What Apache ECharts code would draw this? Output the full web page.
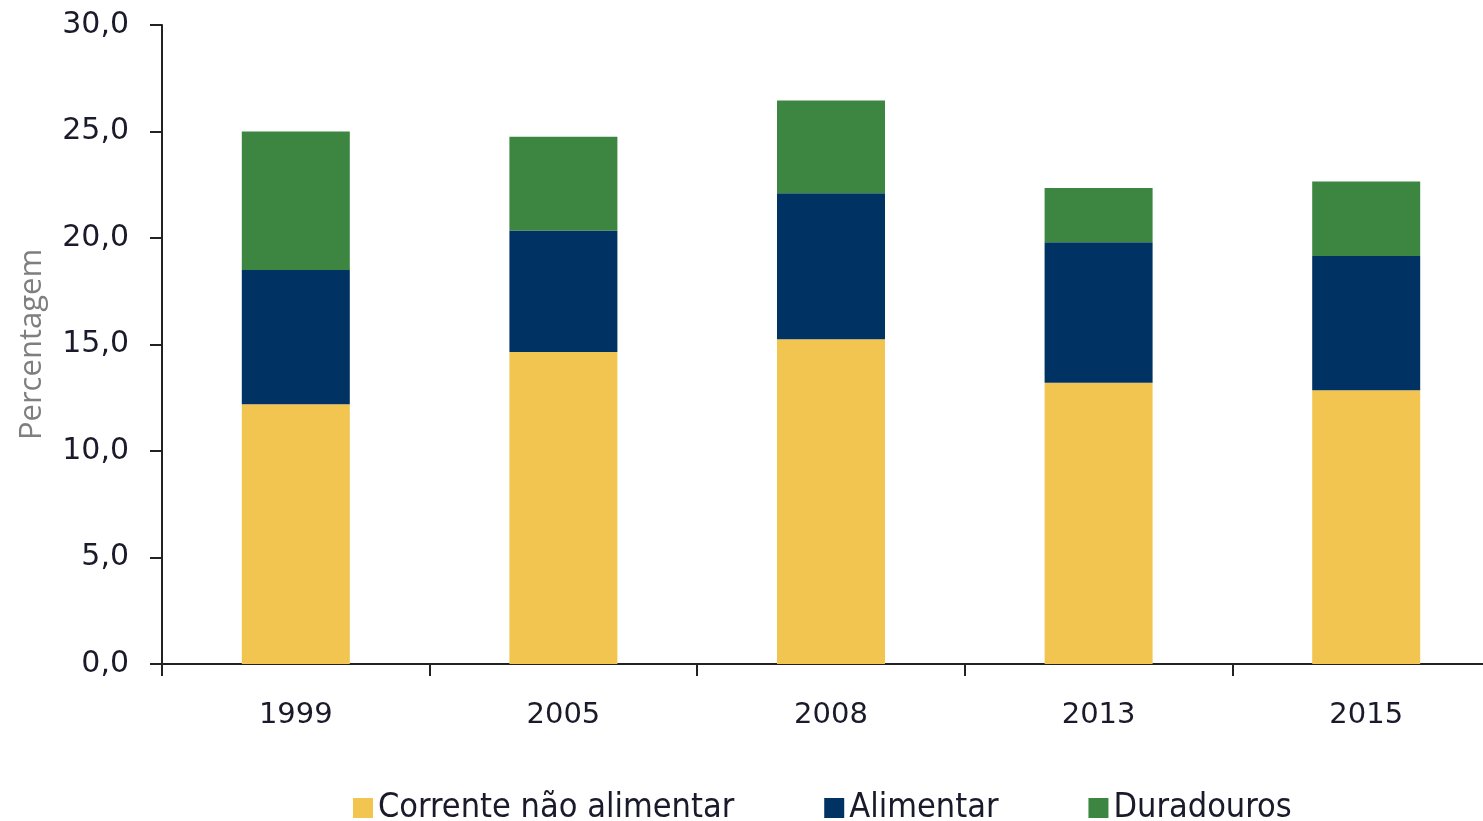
<!DOCTYPE html>
<html>
<head>
<meta charset="utf-8">
<script src="https://cdn.jsdelivr.net/npm/echarts@6/dist/echarts.min.js"></script>
<style>
  html, body { margin: 0; padding: 0; background: #fff; }
  #chart { width: 1483px; height: 821px; }
</style>
</head>
<body>
<div id="chart"></div>
<script>
// dados
var anos = ['1999', '2005', '2008', '2013', '2015'];
var corrente = [12.2, 14.65, 15.25, 13.2, 12.85];
var alimentar = [6.3, 5.7, 6.85, 6.6, 6.3];
var duradouros = [6.5, 4.4, 4.35, 2.55, 3.5];

var fonteEixo = '"DejaVu Sans", sans-serif';
var fonteLegenda = '"DejaVu Sans Condensed", "DejaVu Sans", sans-serif';
var chart = echarts.init(document.getElementById('chart'));

function serie(nome, dados, cor) {
    return {
        name: nome,
        type: 'bar',
        stack: 'total',
        barWidth: 108,
        data: dados,
        itemStyle: { color: cor }
    };
}

var option = {
    animation: false,
    grid: { left: 162, top: 25, bottom: 157, width: 1338, outerBoundsMode: 'none' },
    legend: {
        top: 786,
        left: 348,
        itemWidth: 20,
        itemHeight: 20,
        itemGap: 90,
        icon: 'rect',
        textStyle: { fontFamily: fonteLegenda, fontSize: 34, color: '#1a1a2a' },
        data: ['Corrente não alimentar', 'Alimentar', 'Duradouros']
    },
    xAxis: {
        type: 'category',
        data: anos,
        axisLine: { lineStyle: { color: '#222', width: 2 } },
        axisTick: { show: true, length: 12, lineStyle: { color: '#222', width: 2 } },
        axisLabel: { fontFamily: fonteEixo, fontSize: 29, color: '#1a1a2a', margin: 37 }
    },
    yAxis: {
        type: 'value',
        min: 0,
        max: 30,
        interval: 5,
        name: 'Percentagem',
        nameLocation: 'middle',
        nameGap: 114,
        nameTextStyle: { fontFamily: '"Open Sans", sans-serif', fontSize: 31, color: '#7f7f7f' },
        splitLine: { show: false },
        axisLine: { show: true, lineStyle: { color: '#222', width: 2 } },
        axisTick: { show: true, length: 12, lineStyle: { color: '#222', width: 2 } },
        axisLabel: {
            fontFamily: fonteEixo, fontSize: 30, color: '#1a1a2a', margin: 33,
            formatter: function (v) { return v.toFixed(1).replace('.', ','); }
        }
    },
    series: [
        serie('Corrente não alimentar', corrente, '#F2C551'),
        serie('Alimentar', alimentar, '#003263'),
        serie('Duradouros', duradouros, '#3C8641')
    ]
};
chart.setOption(option);
</script>
</body>
</html>
